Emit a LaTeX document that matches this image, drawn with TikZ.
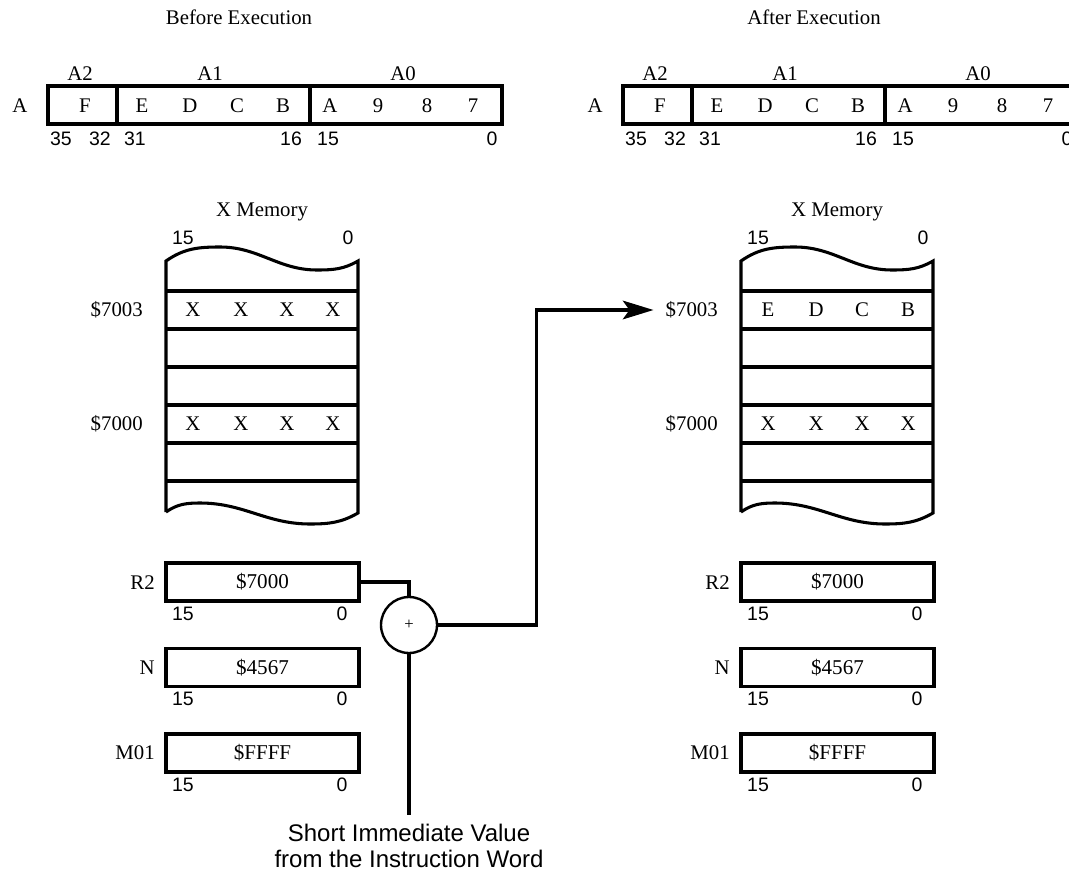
\documentclass[tikz,border=0pt]{standalone}
\usepackage{fontspec}
\setmainfont{Liberation Serif}
\setsansfont{Liberation Sans}
\usetikzlibrary{arrows.meta}

\begin{document}
\begin{tikzpicture}[
  x=0.75pt,y=-0.75pt,
  >={Stealth[length=23pt,width=14pt,inset=5pt]},
  frame/.style={line width=2.3pt},
  wire/.style={line width=2.3pt},
  txt/.style={inner sep=0pt,text height=10.3pt,text depth=0pt,
    font=\fontsize{15.6}{18}\selectfont},
  bit/.style={inner sep=0pt,text height=10.4pt,text depth=0pt,
    font=\sffamily\fontsize{14.6}{17}\selectfont},
  reg/.style={draw,line width=2.3pt,minimum width=144.75pt,
    minimum height=28.5pt,inner sep=0pt,font=\fontsize{15.8}{18}\selectfont},
  sum/.style={draw,circle,line width=1.8pt,minimum size=42pt,inner sep=0pt,
    font=\fontsize{12.5}{13}\selectfont},
  note/.style={align=center,inner xsep=0pt,inner ysep=6.5pt,
    font=\sffamily\fontsize{18}{19.5}\selectfont}
]
  \useasboundingbox (0,0) rectangle (1069,880);
  \clip (0,0) rectangle (1069,880);

  \foreach \s/\dx/\when/\ca/\cb/\cc/\cd in
      {L/0/Before/X/X/X/X, R/575/After/E/D/C/B}{
  \begin{scope}[xshift=\dx*0.75pt]
    \node[txt] (when\s) at (239,18) {\when{} Execution};

    % accumulator A
    \draw[frame] (48,86) rectangle (502,124)
      (117,86) -- (117,124) (310,86) -- (310,124);
    \node[txt] (acc\s) at (20,106) {A};
    \node[txt] (a2\s) at (80,74) {A2};
    \node[txt] (a1\s) at (210,74) {A1};
    \node[txt] (a0\s) at (403,74) {A0};
    \foreach \x/\c in {85/F,142/E,190/D,237/C,283/B,330/A,378/9,427/8,473/7}
      \node[txt] (nib\s\x) at (\x,106) {\c};
    \foreach \x/\b in {61/35,100/32,135/31,291/16,328/15,492/0}
      \node[bit] (abit\s\x) at (\x,139) {\b};

    % X memory
    \node[txt] (xmem\s) at (262,210) {X Memory};
    \node[bit] (mhi\s) at (183,238) {15};
    \node[bit] (mlo\s) at (348,238) {0};
    \draw[frame] (166,512) -- (166,261)
      to[out=35,in=180] (220,247) to[out=0,in=180] (317,270)
      to[out=0,in=210] (358,261) -- (358,513)
      to[out=210,in=0] (310,524) to[out=180,in=0] (200,503)
      to[out=180,in=35] (166,512);
    \foreach \y in {291,329,367,405,443,481}
      \draw[frame] (166,\y) -- (358,\y);
    \node[txt,anchor=east] (m7003\s) at (143,310) {\$7003};
    \node[txt,anchor=east] (m7000\s) at (143,424) {\$7000};
    \node[txt] (ca\s) at (193,310) {\ca};
    \node[txt] (cb\s) at (241,310) {\cb};
    \node[txt] (cc\s) at (287,310) {\cc};
    \node[txt] (cd\s) at (333,310) {\cd};
    \foreach \x in {193,241,287,333}
      \node[txt] (cx\s\x) at (\x,424) {X};

    % address registers
    \node[reg] (r2\s) at (262.5,582) {\$7000};
    \node[txt,anchor=east] (lr2\s) at (155,583) {R2};
    \node[bit] (r2hi\s) at (183,614) {15};
    \node[bit] (r2lo\s) at (342,614) {0};

    \node[reg] (n\s) at (262.5,667.5) {\$4567};
    \node[txt,anchor=east] (ln\s) at (155,668) {N};
    \node[bit] (nhi\s) at (183,699) {15};
    \node[bit] (nlo\s) at (342,699) {0};

    \node[reg] (m\s) at (262.5,753) {\$FFFF};
    \node[txt,anchor=east] (lm\s) at (155,753) {M01};
    \node[bit] (mhi\s) at (183,785) {15};
    \node[bit] (mlo\s) at (342,785) {0};
  \end{scope}
  }

  \node[sum] (add) at (409,625) {+};
  \node[note,anchor=north] (imm) at (409,815)
    {Short Immediate Value\\from the Instruction Word};

  \draw[wire] (r2L.east) -| (add.north);
  \draw[wire] (add.south) -- (imm.north);
  \draw[wire,->,shorten >=9pt] (add.east) -- ++(98,0) |- (m7003R.west);
\end{tikzpicture}
\end{document}
